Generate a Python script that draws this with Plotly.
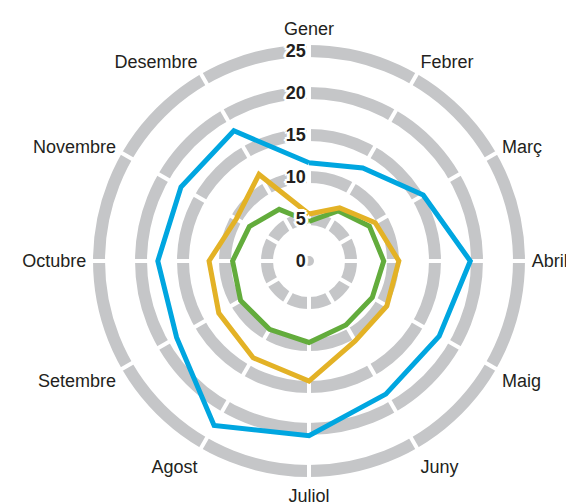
import plotly.graph_objects as go

months = ["Gener", "Febrer", "Març", "Abril", "Maig", "Juny",
          "Juliol", "Agost", "Setembre", "Octubre", "Novembre", "Desembre"]

blue_vals = [11.7, 12.8, 15.7, 19.2, 17.9, 18.3, 20.8, 22.6, 18.2, 18.0, 17.6, 17.9]
orange_vals = [5.6, 7.3, 9.1, 10.7, 10.7, 11.0, 14.3, 13.3, 12.4, 11.9, 10.0, 11.9]
green_vals = [4.7, 6.9, 8.3, 8.9, 8.7, 8.8, 9.7, 9.4, 9.4, 9.1, 8.2, 7.1]

radial_ticks = [0, 5, 10, 15, 20, 25]
r_max = 25.8

RING = "#c5c6c8"
BLUE = "#00a6e0"
ORANGE = "#e3b226"
GREEN = "#63ac3c"
TEXT = "#231f20"

fig = go.Figure()

# white spokes that cut the grey rings at each month
spoke_r, spoke_t = [], []
for m in months:
    spoke_r += [0, r_max, None]
    spoke_t += [m, m, None]
fig.add_trace(go.Scatterpolar(r=spoke_r, theta=spoke_t, mode="lines",
                              line=dict(color="white", width=4),
                              hoverinfo="skip", showlegend=False))

# centre dot
fig.add_trace(go.Scatterpolar(r=[0], theta=[months[0]], mode="markers",
                              marker=dict(color=RING, size=10),
                              hoverinfo="skip", showlegend=False))

def closed(vals):
    return vals + vals[:1], months + months[:1]

for vals, col in [(blue_vals, BLUE), (green_vals, GREEN), (orange_vals, ORANGE)]:
    r, t = closed(vals)
    fig.add_trace(go.Scatterpolar(r=r, theta=t, mode="lines",
                                  line=dict(color=col, width=5),
                                  showlegend=False))

halo = ("3px 0 0 white, -3px 0 0 white, 0 3px 0 white, 0 -3px 0 white, "
        "2px 2px 0 white, -2px 2px 0 white, 2px -2px 0 white, -2px -2px 0 white")

fig.update_layout(
    width=574, height=504,
    margin=dict(l=0, r=0, t=0, b=0),
    paper_bgcolor="white",
    showlegend=False,
    polar=dict(
        domain=dict(x=[84.3 / 574, 517.7 / 574], y=[34.3 / 504, 467.7 / 504]),
        bgcolor="white",
        radialaxis=dict(
            range=[0, r_max],
            tickvals=radial_ticks,
            ticktext=[str(v) for v in radial_ticks],
            angle=90,
            tickangle=90,
            side="counterclockwise",
            showline=False,
            ticks="",
            gridcolor=RING,
            gridwidth=12,
            tickfont=dict(family="Liberation Sans, Arial, sans-serif", size=18,
                          color=TEXT, weight="bold", shadow=halo),
            layer="above traces",
        ),
        angularaxis=dict(
            categoryarray=months,
            categoryorder="array",
            direction="clockwise",
            rotation=90,
            showgrid=False,
            showline=False,
            ticks="outside",
            ticklen=2,
            tickcolor="rgba(0,0,0,0)",
            tickfont=dict(family="Liberation Sans, Arial, sans-serif", size=18,
                          color=TEXT),
        ),
    ),
)

fig.write_html("out.html")
